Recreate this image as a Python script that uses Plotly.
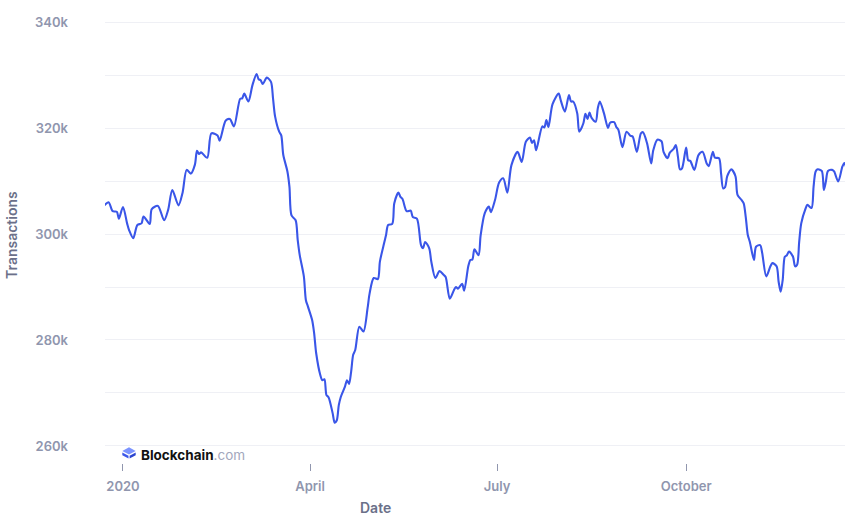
import pandas as pd
import plotly.graph_objects as go

# ---- data (days since 2020-01-01, transactions) ----
DAYS_FROM_2020 = [
    -9, -7, -5, -3, -2, 0, 2, 3, 5, 7, 9, 10, 13, 14, 17, 20, 22, 24, 27, 29,
    31, 33, 35, 36, 37, 38, 41, 43, 46, 47, 50, 52, 54, 57, 58, 59, 61, 63, 65, 66,
    67, 68, 70, 72, 73, 74, 76, 77, 78, 80, 81, 82, 84, 85, 86, 88, 89, 90, 92, 93,
    94, 96, 97, 98, 99, 100, 102, 103, 104, 105, 106, 108, 109, 110, 111, 112, 113, 115, 117, 119,
    120, 122, 124, 125, 127, 128, 129, 131, 132, 134, 135, 136, 138, 140, 141, 143, 145, 146, 147, 149,
    150, 152, 154, 156, 157, 159, 161, 162, 163, 165, 166, 168, 169, 170, 171, 173, 174, 176, 178, 179,
    181, 183, 185, 187, 189, 192, 194, 196, 198, 199, 200, 201, 204, 205, 206, 207, 209, 212, 213, 215,
    217, 218, 219, 221, 222, 224, 225, 226, 227, 228, 230, 231, 232, 234, 236, 237, 239, 240, 241, 243,
    245, 247, 248, 250, 252, 253, 255, 257, 258, 260, 262, 263, 265, 266, 268, 269, 270, 271, 272, 274,
    275, 276, 278, 280, 282, 284, 285, 287, 288, 290, 291, 292, 293, 294, 296, 298, 299, 301, 302, 303,
    304, 305, 307, 308, 310, 311, 313, 315, 316, 318, 319, 320, 321, 322, 323, 324, 326, 327, 328, 329,
    330, 332, 333, 335, 336, 337, 338, 340, 341, 342, 343, 345, 346, 348, 350, 351, 352,
]
TRANSACTIONS_K = [
    305.4, 306.0, 304.3, 304.2, 302.9, 305.1, 302.0, 300.7, 299.2, 301.7, 302.0, 303.3, 301.9, 304.7, 305.3, 302.6, 304.6, 308.3, 305.4, 307.8,
    312.1, 311.4, 313.1, 315.7, 315.1, 315.4, 314.4, 319.0, 318.6, 317.6, 321.4, 321.7, 320.3, 325.5, 325.6, 326.5, 325.0, 328.1, 330.2, 329.2,
    329.0, 328.3, 329.5, 328.7, 325.6, 322.2, 319.3, 318.6, 314.9, 311.8, 308.9, 303.5, 302.6, 298.9, 296.0, 292.0, 287.5, 286.3, 283.8, 281.3,
    277.5, 273.4, 272.4, 272.6, 269.6, 269.2, 266.2, 264.4, 264.8, 267.7, 269.3, 271.2, 272.4, 271.7, 274.0, 277.2, 278.1, 282.5, 281.6, 286.0,
    288.8, 291.7, 291.5, 294.8, 298.2, 299.8, 301.7, 301.9, 305.8, 307.8, 307.0, 306.6, 304.3, 304.4, 303.2, 302.9, 297.9, 297.3, 298.5, 297.3,
    294.8, 291.7, 293.0, 292.3, 291.9, 287.8, 289.4, 290.0, 289.7, 290.6, 289.3, 293.9, 295.1, 295.2, 297.1, 296.0, 299.7, 303.9, 305.2, 304.1,
    306.4, 309.7, 310.5, 307.8, 313.0, 315.5, 313.6, 317.4, 318.2, 317.2, 317.7, 315.8, 320.3, 320.1, 321.5, 320.2, 324.5, 326.5, 325.2, 323.1,
    326.2, 325.0, 325.0, 322.8, 319.3, 320.9, 322.7, 321.7, 322.9, 321.9, 321.2, 323.7, 325.0, 322.8, 320.0, 321.0, 321.1, 320.2, 319.7, 316.4,
    319.3, 318.5, 318.4, 315.5, 319.0, 319.2, 317.1, 313.3, 315.8, 317.8, 317.5, 315.5, 314.3, 315.3, 316.1, 316.8, 314.6, 312.2, 312.4, 316.3,
    313.9, 313.8, 312.1, 314.9, 315.5, 313.3, 312.8, 315.5, 314.4, 314.3, 311.4, 308.6, 308.9, 310.9, 312.2, 310.9, 307.4, 306.4, 305.8, 303.2,
    299.8, 298.5, 295.1, 297.6, 297.9, 296.4, 292.0, 293.9, 294.5, 293.9, 291.0, 289.1, 291.4, 295.7, 296.0, 296.7, 295.7, 293.9, 294.2, 298.5,
    302.0, 304.7, 305.5, 304.9, 308.9, 311.8, 312.2, 311.9, 308.3, 309.9, 311.9, 312.1, 311.8, 309.9, 312.7, 313.4, 312.4,
]
X_TICK_DATES = ["2020-01-01", "2020-04-01", "2020-07-01", "2020-10-01"]
X_TICK_LABELS = ["2020", "April", "July", "October"]
Y_TICKS = [260000, 280000, 300000, 320000, 340000]

dates = pd.Timestamp("2020-01-01") + pd.to_timedelta(DAYS_FROM_2020, unit="D")
values = [v * 1000 for v in TRANSACTIONS_K]

W, H = 855, 524
L, R, T, B = 105, 10, 20, 61
PW, PH = W - L - R, H - T - B


def px(x):
    return (x - L) / PW


def py(y):
    return (H - B - y) / PH


fig = go.Figure(
    go.Scatter(
        x=dates,
        y=values,
        mode="lines",
        line=dict(color="#3a56e8", width=2.1, shape="spline", smoothing=0.8),
        hoverinfo="skip",
    )
)

tick_font = dict(family="Inter, Roboto, sans-serif", size=13, color="#9096ae", weight=600)
title_font = dict(family="Inter, Roboto, sans-serif", size=14, color="#6b7089", weight=600)

fig.update_layout(
    width=W,
    height=H,
    margin=dict(l=L, r=R, t=T, b=B, pad=0, autoexpand=False),
    paper_bgcolor="white",
    plot_bgcolor="white",
    showlegend=False,
    xaxis=dict(
        type="date",
        range=["2019-12-23 06:00", "2020-12-17 07:00"],
        tickvals=X_TICK_DATES,
        ticktext=X_TICK_LABELS,
        showgrid=False,
        zeroline=False,
        showline=False,
        ticks="outside",
        ticklen=7,
        tickwidth=1,
        tickcolor="#9096ae",
        tickfont=tick_font,
        ticklabelstandoff=4,
        automargin=False,
    ),
    yaxis=dict(
        range=[256790, 340380],
        tickvals=Y_TICKS,
        tickformat="~s",
        showgrid=True,
        gridcolor="#eff0f5",
        gridwidth=1,
        zeroline=False,
        showline=False,
        ticks="",
        tickfont=tick_font,
        ticklabelstandoff=36,
        automargin=False,
        minor=dict(dtick=10000, tick0=0, showgrid=True, gridcolor="#eff0f5", gridwidth=1),
    ),
    annotations=[
        dict(text="Date", x=px(375), y=py(507), xref="paper", yref="paper",
             showarrow=False, font=title_font, xanchor="center", yanchor="middle"),
        dict(text="Transactions", x=px(11), y=py(235), xref="paper", yref="paper",
             showarrow=False, font=title_font, textangle=-90, xanchor="center", yanchor="middle"),
        dict(text="<b>Blockchain</b><span style='color:#a3a7bd'>.com</span>",
             x=px(139), y=py(455), xref="paper", yref="paper", showarrow=False,
             font=dict(family="Inter, Roboto, sans-serif", size=13.5, color="#121212"),
             xanchor="left", yanchor="middle"),
    ],
    shapes=[
        dict(type="path", xref="paper", yref="paper", layer="above", line=dict(width=0),
             fillcolor="#7b93ff",
             path=f"M {px(129)},{py(447.3)} L {px(135.7)},{py(451)} L {px(129)},{py(454.5)} L {px(122.3)},{py(451)} Z"),
        dict(type="path", xref="paper", yref="paper", layer="above", line=dict(width=0),
             fillcolor="#3a56e8",
             path=f"M {px(122.3)},{py(452.4)} L {px(128.5)},{py(455.8)} L {px(128.5)},{py(458.5)} L {px(122.3)},{py(455.2)} Z"),
        dict(type="path", xref="paper", yref="paper", layer="above", line=dict(width=0),
             fillcolor="#2a44d0",
             path=f"M {px(129.6)},{py(455.8)} L {px(135.7)},{py(452.4)} L {px(135.7)},{py(455.2)} L {px(129.6)},{py(458.5)} Z"),
    ],
)

# remove the browser's default 8px body margin so the 855x524 figure fills the window
fig.write_html(
    "out.html",
    config={"displayModeBar": False, "staticPlot": True},
    post_script="document.body.style.margin='0';",
)
